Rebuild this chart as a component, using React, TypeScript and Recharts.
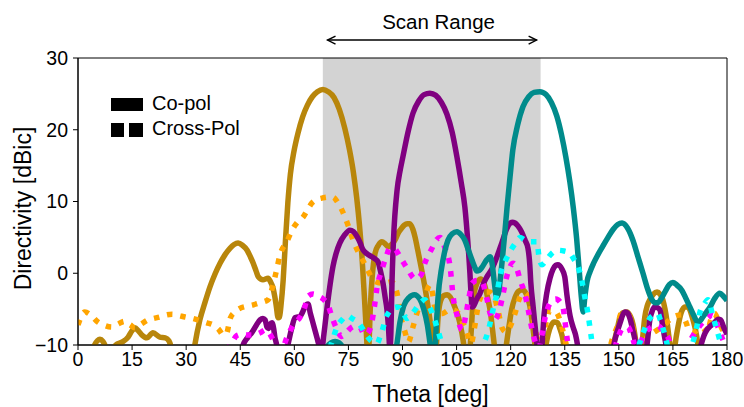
import React from 'react'
import {
  LineChart,
  Line,
  XAxis,
  YAxis,
  ReferenceArea,
  ReferenceLine,
  ReferenceDot,
  Legend,
} from 'recharts'

type Pt = [number, number]

const FONT = '"Liberation Sans", Arial, Helvetica, sans-serif'

const thetaTicks = [0, 15, 30, 45, 60, 75, 90, 105, 120, 135, 150, 165, 180]
const dbTicks = [-10, 0, 10, 20, 30]

// scan window, arrow span and where its caption sits (deg / dBic)
const scanRange: Pt = [67.9, 128.3]
const arrowSpan: Pt = [69.2, 127.2]
const arrowLevel = 32.5
const scanCaption: Pt = [100, 34.0]

// beam 1 (steered to ~68 deg)
const beam1Co: Pt[] = [
  [0, -13], [3.6, -12], [4.6, -10], [5.4, -9.4], [6.1, -9.2], [6.9, -9.5], [7.7, -10.3], [8.6, -12],
  [9.4, -10.8], [10.5, -10], [12.2, -9.6], [13.9, -8.9], [15, -8], [15.8, -7.6], [16.7, -8], [17.7, -8.6],
  [19.1, -9.0], [20.8, -8.3], [22.7, -8.9], [24.2, -9], [25.2, -9.4], [25.9, -10.5], [26.6, -13], [31.5, -13],
  [32.4, -10], [33.8, -6.5], [35.2, -4.1], [36.6, -1.9], [38, -0.1], [39.4, 1.4], [40.8, 2.6], [42.2, 3.5],
  [43.3, 4.0], [44.4, 4.2], [45.6, 3.9], [46.9, 3.2], [47.8, 2.3], [48.6, 1.4], [49.4, 0.3], [50, -0.5],
  [51.3, -0.9], [52.7, -0.7], [53.4, -1.2], [54, -1.9], [54.6, -3.3], [55, -4.6], [55.5, -6.2], [55.9, -6.1],
  [56.3, -4.5], [56.9, -1], [57.5, 4.2], [58.2, 9.8], [58.9, 13.8], [59.9, 17], [61, 19.5], [62.3, 21.8],
  [63.6, 23.4], [65, 24.6], [66.4, 25.3], [67.9, 25.6], [69.4, 25.3], [71, 24.5], [72.5, 22.8], [74, 20.2],
  [75.3, 17.2], [76.4, 14], [77.3, 10.5], [78.1, 6.5], [78.8, 2], [79.4, -3], [79.9, -7.5], [80.2, -10.5],
  [80.4, -12], [80.7, -10], [81.1, -4.5], [81.6, -0.5], [82.4, 2.8], [83.3, 3.9], [84.3, 4.4],
  [85.2, 4.1], [86, 3.7], [87, 4], [87.9, 4.6], [88.8, 5.6], [89.8, 6.3], [90.5, 6.7], [91.3, 6.9],
  [92, 6.9], [92.9, 6.1], [93.5, 5.0], [94.2, 3.3], [94.8, 1.8], [95.5, 0], [96.2, -1.9], [97.1, -4.7],
  [97.7, -6.8], [98.2, -8.3], [98.7, -10.2], [99.1, -12], [99.4, -10], [99.9, -6], [100.6, -3.8], [101.5, -3.1],
  [102.4, -3.0], [103.2, -3.3], [104.5, -4.7], [105.3, -5.8], [105.9, -6.9], [106.5, -8.4], [107, -10], [107.5, -12],
  [108.3, -12], [108.8, -10], [109.6, -3.8], [110.5, -1.6], [111.6, -0.8], [112.6, -1.4], [113.7, -3.6], [114.4, -5.5],
  [115, -8], [115.6, -10.5], [116.2, -12], [118.2, -12], [118.8, -10], [119.5, -7.5], [120.3, -5], [121.2, -3.4],
  [122.2, -2.5], [123.3, -2.3], [124.4, -3], [125.3, -4.5], [125.9, -6.5], [126.4, -8.5], [126.8, -10.2], [127.3, -12],
  [129.2, -12], [129.8, -10], [130.4, -8.5], [131.2, -7.3], [132.1, -6.8], [133, -6.9], [133.7, -7.8], [134.3, -8.8],
  [134.9, -10.5], [135.4, -12], [147.8, -12], [148.5, -10], [149.5, -7.9], [150.3, -6.2], [151.1, -5.5], [152.2, -5.4],
  [153, -5.8], [153.6, -6.5], [154.2, -7.8], [154.7, -9.5], [155.2, -12], [155.8, -12], [156.4, -10], [157.2, -6.1],
  [157.9, -4.5], [158.6, -3.7], [159.6, -2.9], [160.6, -2.6], [161.4, -2.9], [162.2, -3.7], [162.8, -5], [163.3, -6.5],
  [163.8, -8.5], [164.2, -10], [164.8, -12], [165.2, -12], [165.6, -10], [166.4, -7.5], [167.3, -5.5], [168.3, -4.7],
  [169, -4.7], [169.7, -5.1], [170.4, -6.2], [171.1, -7.5], [171.6, -8.8], [172, -10.2], [172.5, -13], [180, -13],
]

const beam1Cross: Pt[] = [
  [0, -7.2], [1.9, -5.4], [3.5, -5.8], [5.5, -6.8], [7.5, -7.3], [9.4, -7.5], [11, -7.1], [13, -6.7],
  [14.5, -7.2], [15.8, -7.6], [17.5, -7.1], [19.4, -6.5], [21, -6.3], [22.7, -6.1], [24.5, -5.8], [26.1, -5.7],
  [28, -5.9], [29.7, -6.1], [31.8, -6.3], [33.8, -6.6], [35.7, -6.9], [37.5, -7.2], [39, -7.8], [40.3, -8.6],
  [41.2, -8.4], [42.2, -6.3], [43.5, -5.4], [44.9, -4.9], [46.8, -4.6], [48.6, -4.4], [50.6, -4.1], [52.7, -3.7],
  [54, -1.8], [55.1, 0.5], [56, 2.5], [57.9, 4.4], [59.7, 6.3], [61, 7.2], [62.4, 7.8], [63.7, 8.9],
  [64.9, 9.8], [66.4, 10.3], [67.9, 10.5], [69.3, 10.6], [70.7, 10.6], [72, 9.9], [73.2, 8.8], [74.9, 6.7],
  [76.3, 4.6], [77.7, 3], [79, 1.8], [80.4, 0.4], [81.8, -0.9], [83.2, -1.3], [84.6, -1.4], [86, -1.3],
  [87, -1.2], [88, -2], [88.7, -3.3], [89.3, -5.5], [90, -7], [90.7, -8.2], [91.6, -9.6], [92.9, -7.5],
  [94.3, -5.1], [96.2, -3.3], [97.6, -1.6], [98.4, -3], [99, -4.8], [100, -5.6], [101.2, -5.6], [102.6, -5.2],
  [104, -5.1], [105.5, -5.6], [106.8, -7], [107.8, -8.2], [109, -9.8], [110, -7.5], [111, -4.5], [112, -3],
  [112.9, -2.6], [114.2, -2.6], [115.5, -3.4], [116.5, -5.2], [117.6, -7.6], [118.8, -8.2], [119.8, -7.5], [121.2, -5.6],
  [122.6, -3.3], [123.6, -2.7], [124.8, -3.2], [125.8, -5], [126.7, -7.5], [127.7, -9.6], [128.8, -9], [130, -6.5],
  [130.9, -5.1], [132, -5.2], [133.1, -5.8], [134.2, -7.5], [135.2, -9.5], [136.2, -11.5], [147, -11.5], [148, -9.5],
  [149.5, -7.5], [150.9, -5.4], [152.5, -5.6], [153.6, -7], [154.6, -9.5], [155.5, -11], [157, -10], [158.2, -8.6],
  [159.5, -8.3], [161, -7.8], [162.6, -7.2], [164.7, -6.2], [166, -5.9], [167.5, -5.8], [168.6, -6.8], [169.5, -8],
  [170.5, -8.3], [172, -7.8], [173.3, -7.6], [174.5, -8.3], [175.5, -6.5], [176.5, -5.6], [177.5, -6.5], [178.9, -8],
  [180, -8.5],
]

// beam 2 (steered to ~98 deg)
const beam2Co: Pt[] = [
  [42, -13], [44.8, -12], [45.8, -10], [47, -9], [48.3, -8.2], [49.5, -7.2], [50.5, -6.5], [51.3, -6.3],
  [51.9, -6.5], [52.4, -7.5], [52.8, -7.7], [53.3, -7.1], [53.8, -6.9], [54.3, -7.8], [54.6, -8.9], [55.1, -10],
  [55.6, -12], [57.2, -12], [58.2, -10], [59.2, -7.8], [60.2, -6.2], [61.6, -6], [62.3, -5.4], [62.9, -4.7],
  [63.8, -4.3], [64.4, -5.5], [65, -6.6], [65.7, -7.9], [66.4, -9.2], [67.1, -10.4], [67.6, -10.6], [68.2, -8.5],
  [69, -5.1], [69.8, -2], [70.7, 0.9], [71.6, 2.8], [72.6, 4.2], [73.9, 5.3], [75.4, 6.0], [76.4, 5.8],
  [77.4, 5.1], [78.2, 4.3], [79, 3.3], [80.2, 2.7], [81.5, 2.3], [82.4, 2.0], [83.2, 1.6], [83.9, 0.3],
  [84.6, -1.4], [85.2, -3.4], [85.7, -5.1], [86.1, -7.5], [86.5, -10.5], [86.8, -8], [87.1, -1], [87.5, 4.6],
  [88.5, 11.6], [89.3, 14.2], [90.1, 16.2], [91.5, 19.6], [92.9, 22.3], [94.5, 24], [96, 24.9], [97.6, 25.1],
  [99.2, 24.8], [100.8, 23.8], [102.3, 22.2], [103.8, 19.6], [105.1, 16.2], [106.3, 12.6], [107.3, 9.2], [108.1, 4.5],
  [108.7, 0], [109, -2.8], [109.3, -4.7], [109.8, -4.5], [110.6, -3.6], [111.5, -2.8], [112.5, -1.4], [113.4, -0.5],
  [114.8, 0.6], [116.2, 2.3], [117.6, 4.3], [119, 6.3], [119.7, 6.9], [120.4, 7.1], [121.2, 7.0], [122, 6.6],
  [123, 5.8], [124, 4.6], [124.8, 3.5], [125.3, 1.2], [125.6, -1.4], [126.2, -4.5], [126.8, -7.5], [127.3, -10],
  [127.8, -12], [128.3, -12], [128.7, -10], [129.3, -5.5], [130, -2.8], [130.9, -0.7], [131.7, 0.5], [132.5, 1.1],
  [133.1, 1.2], [134.2, 0.6], [135, -0.5], [135.6, -3], [136.5, -6], [137.3, -7.5], [138, -8.6], [138.7, -10.5],
  [139.3, -13], [147.5, -13], [148.6, -10], [149.5, -8.2], [150.3, -7], [151.1, -5.8], [151.8, -5.4], [152.5, -5.6],
  [153.2, -6.5], [153.9, -8], [154.5, -9.3], [155.1, -11], [155.6, -13], [156.8, -12], [157.8, -10], [158.6, -6.5],
  [159.3, -5.2], [160, -4.7], [160.7, -4.8], [161.4, -5.1], [162.2, -7.5], [163.1, -10], [163.8, -12], [171.5, -13],
  [172.8, -10], [173.6, -8.7], [174.4, -7.9], [175.3, -7.4], [176.3, -7], [177.5, -6.4], [178.3, -6.5], [178.9, -7.3],
  [179.5, -8], [180, -8.5],
]

const beam2Cross: Pt[] = [
  [38.5, -12], [40.5, -11], [42.7, -9.7], [44, -8.7], [45.5, -8.5], [47, -8.6], [48.6, -8.6], [50.5, -8.3],
  [52, -7.9], [53, -8.3], [54, -9.2], [55.2, -10.5], [56.5, -10.5], [58, -8.9], [59.7, -7.2], [61.6, -6.1],
  [62.9, -4.7], [63.8, -3.2], [65.2, -2.9], [66.6, -3.2], [68, -3.6], [69.3, -4.4], [70.7, -6.5], [71.8, -7.8],
  [73, -8.8], [74.5, -8.2], [76, -7.5], [77.2, -7.3], [78.2, -7.5], [79.5, -8.6], [80.6, -8.2], [81.5, -6.8],
  [82.2, -4.7], [82.9, -2.1], [84.3, 0.5], [85.4, 2.2], [86.5, 3.5], [87.8, 3.4], [89.3, 2.3], [90.5, 1.3],
  [91.5, 0.5], [93.5, -0.8], [95.2, -0.2], [96.2, 1.4], [98.2, 3.5], [99.2, 4.5], [100.4, 5.0], [101.8, 3.5],
  [103.2, 0.9], [104.1, -3.5], [105.1, -5.8], [106.5, -7.9], [107.5, -6], [108.4, -3.5], [109.3, -1.4], [110.6, -1],
  [112, -1.2], [113.4, -3.5], [114.3, -5.6], [115.5, -6.5], [117, -4.9], [118, -2.6], [118.9, -0.5], [120.7, 1.4],
  [121.8, 0.5], [122.6, -0.9], [124, -3], [124.8, -4.9], [125.8, -7.5], [126.7, -9.4], [127.8, -10.5], [128.7, -8.5],
  [129.5, -6.3], [130.9, -4.2], [132.5, -3.6], [133.7, -4], [134.5, -4.7], [135.1, -6.8], [135.6, -8.9], [136.5, -11],
  [148, -11.5], [149.8, -8.9], [151, -7.7], [152.5, -7.5], [153.5, -8.5], [154.5, -10], [155.5, -10.2], [156.7, -8.9],
  [158, -7.9], [159.2, -7.5], [160.3, -7.3], [161.4, -7.5], [162.5, -8.3], [163.6, -8.9], [164.8, -10.5], [168.5, -10.8],
  [170, -9.2], [171.5, -8], [173, -7], [174.5, -6.3], [176, -5.8], [177.5, -7.5], [178.8, -9.2], [180, -10.5],
]

// beam 3 (steered to ~128 deg)
const beam3Co: Pt[] = [
  [66, -13], [68.4, -12], [69.2, -10.2], [70.2, -9.7], [71.3, -9.5], [72.4, -9.7], [73.4, -10.3], [74.4, -12],
  [87, -13], [88.4, -10], [89.3, -6.8], [90.3, -4.6], [91.8, -3.4], [93.3, -3.0], [94.8, -3.6], [95.9, -5],
  [96.9, -7.2], [97.7, -10], [98.3, -12], [98.8, -12], [99.3, -8], [99.8, -3.7], [100.9, 0.9], [101.7, 3],
  [102.6, 4.6], [103.8, 5.5], [105.1, 5.8], [106.2, 5.4], [107.3, 4.6], [108.3, 3.2], [109.3, 1.8], [110, 0.9],
  [110.6, 0.3], [111.3, 0.4], [112, 0.8], [113.4, 1.9], [114.3, 2.3], [114.9, 1.2], [115.4, -1], [116.1, -3.3],
  [116.6, -2.8], [117.2, -0.5], [117.6, 1.5], [118.3, 5.2], [119, 9.2], [119.8, 13.3], [120.6, 17.2], [121.9, 20.6],
  [123.4, 23.2], [125, 24.6], [126.5, 25.2], [128.1, 25.3], [129.8, 24.9], [131.3, 23.8], [132.8, 21.9], [134.1, 19.3],
  [135.3, 16.2], [136.4, 12.8], [137.4, 9], [138.3, 4.8], [139, 0.5], [139.6, -3.3], [140.1, -5.4], [140.6, -3.2],
  [141.2, -1.1], [142, 0.2], [143, 1.4], [143.9, 2.3], [145.6, 3.8], [147, 5], [148.4, 6.1], [149.7, 6.8],
  [150.9, 7.0], [152.4, 6.3], [153.9, 4.6], [155.3, 2.3], [156.7, 0.0], [158, -2.2], [159.2, -3.7], [160, -4.1],
  [160.8, -4.1], [161.8, -3.5], [162.8, -2.6], [164, -1.6], [165, -1.3], [166, -1.6], [167.5, -2.4], [168.6, -3.5],
  [169.7, -4.7], [170.8, -5.9], [171.9, -6.8], [172.6, -6.6], [173.3, -6.1], [174.3, -5.4], [175.3, -4.7], [176.6, -3.5],
  [178, -2.8], [179, -3.2], [180, -3.8],
]

const beam3Cross: Pt[] = [
  [68, -12], [69.8, -10.5], [70.8, -9], [71.8, -7.5], [73.2, -6.5], [74.6, -5.9], [76, -6.3], [77.7, -6.9],
  [79, -7.8], [80.1, -8.7], [81.5, -9.5], [82.9, -9.8], [83.8, -8.8], [84.6, -7.6], [85.3, -6.3], [86, -5.6],
  [87.5, -4.8], [88.7, -4.7], [90, -5.3], [91.2, -6.3], [92.4, -5.8], [93.5, -5.1], [95, -4.1], [96.2, -3.7],
  [97.3, -4.5], [98.4, -5.8], [99.8, -7.9], [100.8, -9.6], [101.8, -11], [111, -11], [112.5, -9.8], [113.8, -8],
  [115.1, -5.1], [116.2, -2.8], [117, -0.5], [118.4, 1.6], [119.4, 2.6], [120.4, 3.5], [121.5, 4.3], [122.6, 5.0],
  [123.7, 4.7], [124.8, 4.4], [126, 4.4], [127.3, 4.4], [127.8, 2.5], [128.7, 1.2], [129.8, 1.8], [130.9, 2.5],
  [133.1, 3.2], [134.8, 3.1], [136.4, 2.8], [137.6, 1.9], [138.7, 0.9], [139.8, -1.2], [140.6, -3.4], [141.4, -5.5],
  [142, -7.6], [142.6, -9.8], [143.2, -12], [154.5, -12], [155.6, -10], [156.7, -8.4], [157.6, -7.2], [158.6, -6.3],
  [159.7, -5.8], [160.8, -5.6], [161.5, -6.5], [162.2, -7.6], [163, -9], [163.8, -10.5], [169.5, -11], [170.5, -9.7],
  [171.6, -7.5], [172.5, -5.4], [173.6, -4.4], [174.7, -3.7], [175.4, -4.6], [176, -5.8], [177.2, -7.9], [178.3, -9.8],
  [179.2, -11], [180, -11],
]

const series = [
  { key: 'b1-co', pts: beam1Co, color: '#B8860B', dotted: false },
  { key: 'b1-x', pts: beam1Cross, color: '#FFA500', dotted: true },
  { key: 'b2-co', pts: beam2Co, color: '#800080', dotted: false },
  { key: 'b2-x', pts: beam2Cross, color: '#FF00FF', dotted: true },
  { key: 'b3-co', pts: beam3Co, color: '#008B8B', dotted: false },
  { key: 'b3-x', pts: beam3Cross, color: '#00FFFF', dotted: true },
]

const toRows = (pts: Pt[]) => pts.map(([t, d]) => ({ t, d }))

const fmtDb = (v: number) => (v < 0 ? `\u2212${-v}` : `${v}`)

const tickStyle = { fontSize: 19.5, fill: '#000', fontFamily: FONT }

function ScanArrow(props: any) {
  const { x1, y1, x2 } = props
  const hl = 8
  const hw = 4
  return (
    <g stroke="#000" strokeWidth={1.4} fill="none">
      <line x1={x1} y1={y1} x2={x2} y2={y1} />
      <polyline points={`${x1 + hl},${y1 - hw} ${x1},${y1} ${x1 + hl},${y1 + hw}`} />
      <polyline points={`${x2 - hl},${y1 - hw} ${x2},${y1} ${x2 - hl},${y1 + hw}`} />
    </g>
  )
}

function ScanCaption(props: any) {
  return (
    <text x={props.cx} y={props.cy} textAnchor="middle" fontSize={20.5} fontFamily={FONT} fill="#000">
      Scan Range
    </text>
  )
}

function PolLegend() {
  return (
    <svg width={150} height={50} style={{ display: 'block' }}>
      <rect x={3} y={6} width={32} height={13} fill="#000" />
      <rect x={3} y={31} width={13} height={14} fill="#000" />
      <rect x={21} y={31} width={14} height={14} fill="#000" />
      <text x={44} y={18} fontSize={20} fontFamily={FONT} fill="#000">Co-pol</text>
      <text x={44} y={43} fontSize={20} fontFamily={FONT} fill="#000">Cross-Pol</text>
    </svg>
  )
}

export default function App() {
  return (
    <div style={{ position: 'absolute', left: 0, top: 0, background: '#fff', fontFamily: FONT }}>
      <LineChart width={744} height={407} margin={{ top: 58, right: 17, bottom: 22, left: 18 }}>
        <ReferenceArea x1={scanRange[0]} x2={scanRange[1]} fill="#D3D3D3" fillOpacity={1} stroke="none" />
        <XAxis
          type="number"
          dataKey="t"
          domain={[0, 180]}
          ticks={thetaTicks}
          allowDataOverflow
          height={40}
          tickSize={5}
          tickMargin={2}
          tick={tickStyle}
          stroke="#000"
          tickLine={{ stroke: '#000' }}
          label={{
            content: (p: any) => (
              <text
                x={p.viewBox.x + p.viewBox.width / 2 + 28}
                y={402}
                textAnchor="middle"
                fontSize={23}
                fontFamily={FONT}
                fill="#000"
              >
                Theta [deg]
              </text>
            ),
          }}
        />
        <YAxis
          type="number"
          dataKey="d"
          domain={[-10, 30]}
          ticks={dbTicks}
          allowDataOverflow
          width={60}
          tickSize={5}
          tickMargin={5}
          tick={tickStyle}
          tickFormatter={fmtDb}
          stroke="#000"
          tickLine={{ stroke: '#000' }}
          label={{
            content: (p: any) => {
              const cy = p.viewBox.y + p.viewBox.height / 2 + 7
              return (
                <text
                  x={31}
                  y={cy}
                  transform={`rotate(-90, 31, ${cy})`}
                  textAnchor="middle"
                  fontSize={23}
                  fontFamily={FONT}
                  fill="#000"
                >
                  Directivity [dBic]
                </text>
              )
            },
          }}
        />
        {series.map((s) => (
          <Line
            key={s.key}
            data={toRows(s.pts)}
            dataKey="d"
            type="monotone"
            stroke={s.color}
            strokeWidth={5.5}
            strokeDasharray={s.dotted ? '5.5 8' : undefined}
            strokeLinejoin="round"
            dot={false}
            activeDot={false}
            legendType="none"
            isAnimationActive={false}
          />
        ))}
        <ReferenceArea x1={0} x2={180} y1={-10} y2={30} fill="none" stroke="#000" strokeWidth={1} />
        <ReferenceLine
          segment={[
            { x: arrowSpan[0], y: arrowLevel },
            { x: arrowSpan[1], y: arrowLevel },
          ]}
          ifOverflow="visible"
          shape={ScanArrow}
        />
        <ReferenceDot x={scanCaption[0]} y={scanCaption[1]} ifOverflow="visible" shape={ScanCaption} />
        <Legend
          layout="vertical"
          align="center"
          verticalAlign="middle"
          wrapperStyle={{ left: 108, top: 92, width: 150, height: 50 }}
          content={() => <PolLegend />}
        />
      </LineChart>
    </div>
  )
}
